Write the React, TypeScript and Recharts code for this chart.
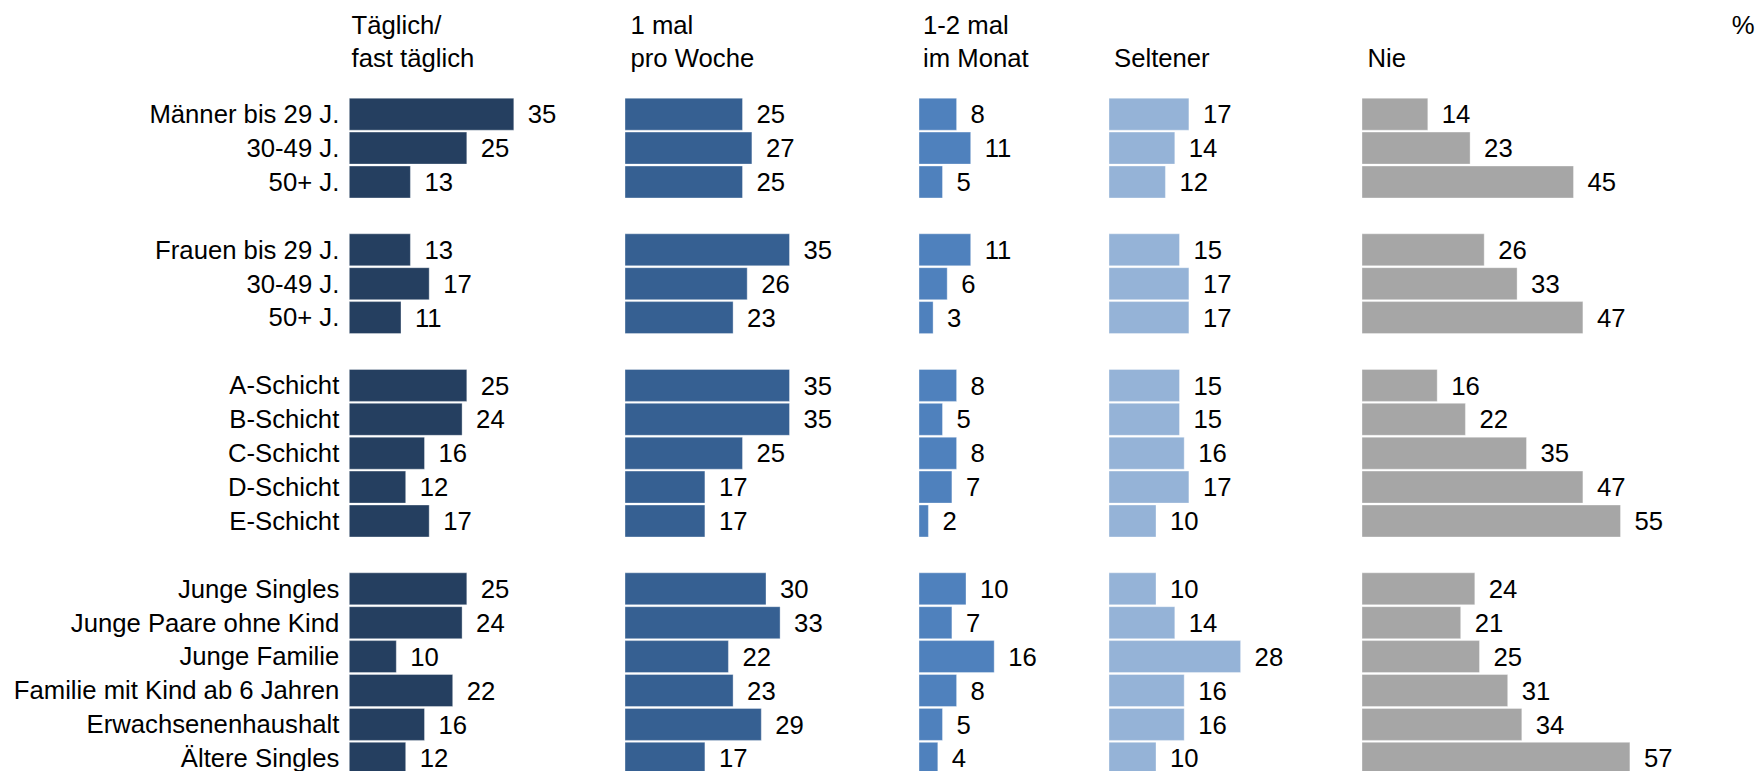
import { BarChart, Bar, XAxis, YAxis, LabelList } from 'recharts';

const categories = [
  'Männer bis 29 J.', '30-49 J.', '50+ J.', '',
  'Frauen bis 29 J.', '30-49 J.', '50+ J.', '',
  'A-Schicht', 'B-Schicht', 'C-Schicht', 'D-Schicht', 'E-Schicht', '',
  'Junge Singles', 'Junge Paare ohne Kind', 'Junge Familie',
  'Familie mit Kind ab 6 Jahren', 'Erwachsenenhaushalt', 'Ältere Singles',
];

const taeglich = [35, 25, 13, null, 13, 17, 11, null, 25, 24, 16, 12, 17, null, 25, 24, 10, 22, 16, 12];
const wochentlich = [25, 27, 25, null, 35, 26, 23, null, 35, 35, 25, 17, 17, null, 30, 33, 22, 23, 29, 17];
const monatlich = [8, 11, 5, null, 11, 6, 3, null, 8, 5, 8, 7, 2, null, 10, 7, 16, 8, 5, 4];
const seltener = [17, 14, 12, null, 15, 17, 17, null, 15, 15, 16, 17, 10, null, 10, 14, 28, 16, 16, 10];
const nie = [14, 23, 45, null, 26, 33, 47, null, 16, 22, 35, 47, 55, null, 24, 21, 25, 31, 34, 57];

const data = categories.map((c, i) => ({
  id: i,
  t: taeglich[i],
  w: wochentlich[i],
  m: monatlich[i],
  s: seltener[i],
  n: nie[i],
}));

const FONT = '"Liberation Sans", Arial, sans-serif';
const FS = 25.7;
const PX_PER_UNIT = 4.7;
const DOMAIN_MAX = 60;
const PLOT_W = DOMAIN_MAX * PX_PER_UNIT;
const CHART_TOP = 96.5;
const CHART_H = 678;
const LABEL_W = 349.3;

const panels = [
  { key: 't', x: 349.3, color: '#253f60', title: ['Täglich/', 'fast täglich'], titleX: 351.5 },
  { key: 'w', x: 625, color: '#366092', title: ['1 mal', 'pro Woche'], titleX: 630.5 },
  { key: 'm', x: 919, color: '#4f81bd', title: ['1-2 mal', 'im Monat'], titleX: 923 },
  { key: 's', x: 1108.7, color: '#95b3d7', title: ['', 'Seltener'], titleX: 1114 },
  { key: 'n', x: 1362.3, color: '#a6a6a6', title: ['', 'Nie'], titleX: 1367.5 },
];

const Panel = ({ p, first }: { p: (typeof panels)[number]; first: boolean }) => {
  const left = first ? 0 : p.x;
  const yw = first ? LABEL_W : 0;
  return (
    <div style={{ position: 'absolute', left, top: CHART_TOP }}>
      <BarChart
        width={yw + PLOT_W + 70}
        height={CHART_H}
        data={data}
        layout="vertical"
        margin={{ top: 0, right: 70, bottom: 0, left: 0 }}
        barCategoryGap={1.2}
      >
        <XAxis type="number" domain={[0, DOMAIN_MAX]} hide />
        <YAxis
          type="category"
          dataKey="id"
          width={yw}
          hide={!first}
          axisLine={false}
          tickLine={false}
          tickSize={0}
          tickMargin={10}
          interval={0}
          tickFormatter={(v: number) => categories[v]}
          tick={{ fill: '#000', fontSize: FS, fontFamily: FONT }}
        />
        <Bar
          dataKey={p.key}
          fill={p.color}
          stroke="#ffffff"
          strokeOpacity={0.45}
          strokeWidth={0.8}
          isAnimationActive={false}
        >
          <LabelList
            dataKey={p.key}
            position="right"
            offset={14}
            fill="#000"
            fontSize={FS}
            fontFamily={FONT}
          />
        </Bar>
      </BarChart>
    </div>
  );
};

export default function App() {
  return (
    <div
      style={{
        position: 'absolute',
        left: 0,
        top: 0,
        width: 1758,
        height: 771,
        overflow: 'hidden',
        background: '#fff',
        fontFamily: FONT,
        color: '#000',
      }}
    >
      {panels.map((p) => (
        <div
          key={'h' + p.key}
          style={{
            position: 'absolute',
            left: p.titleX,
            top: 8.7,
            fontSize: FS,
            lineHeight: '33.5px',
            whiteSpace: 'pre',
          }}
        >
          {p.title[0] || ' '}
          {'\n'}
          {p.title[1]}
        </div>
      ))}
      <div style={{ position: 'absolute', left: 1731.8, top: 8.7, fontSize: FS, lineHeight: '33.5px' }}>%</div>
      {panels.map((p, i) => (
        <Panel key={p.key} p={p} first={i === 0} />
      ))}
    </div>
  );
}
